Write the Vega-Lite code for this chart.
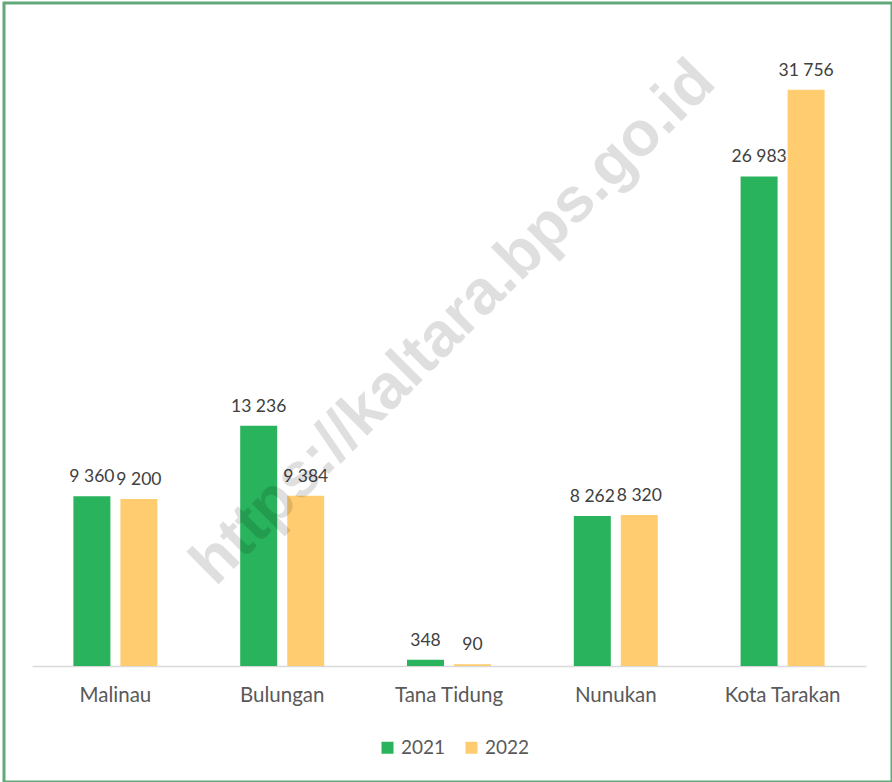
{
  "$schema": "https://vega.github.io/schema/vega-lite/v6.json",
  "width": 888,
  "height": 779,
  "autosize": "none",
  "padding": {"left": 4, "top": 3, "right": 0, "bottom": 0},
  "background": "white",
  "config": {
    "view": {"stroke": "#63a87b", "strokeWidth": 3},
    "locale": {"number": {"decimal": ",", "thousands": " ", "grouping": [3], "currency": ["", ""]}}
  },
  "data": {
    "values": [
      {"region": "Malinau", "year": "2021", "value": 9360},
      {"region": "Malinau", "year": "2022", "value": 9200},
      {"region": "Bulungan", "year": "2021", "value": 13236},
      {"region": "Bulungan", "year": "2022", "value": 9384},
      {"region": "Tana Tidung", "year": "2021", "value": 348},
      {"region": "Tana Tidung", "year": "2022", "value": 90},
      {"region": "Nunukan", "year": "2021", "value": 8262},
      {"region": "Nunukan", "year": "2022", "value": 8320},
      {"region": "Kota Tarakan", "year": "2021", "value": 26983},
      {"region": "Kota Tarakan", "year": "2022", "value": 31756}
    ]
  },
  "layer": [
    {
      "mark": {"type": "bar"},
      "encoding": {
        "x": {
          "field": "region", "type": "nominal",
          "sort": ["Malinau", "Bulungan", "Tana Tidung", "Nunukan", "Kota Tarakan"],
          "scale": {"range": [28, 862], "paddingInner": 0.4964, "paddingOuter": 0.2482},
          "axis": {
            "title": null, "labelAngle": 0, "ticks": false, "grid": false,
            "domain": true, "domainColor": "#d9d9d9", "domainWidth": 1.5,
            "labelFont": "Lato", "labelFontSize": 20.5, "labelColor": "#595959",
            "labelPadding": 19, "offset": -116
          }
        },
        "xOffset": {"field": "year", "type": "nominal", "scale": {"paddingInner": 0.213, "paddingOuter": 0}},
        "y": {
          "field": "value", "type": "quantitative",
          "scale": {"domain": [0, 35000], "range": [663, 28]},
          "axis": null
        },
        "color": {
          "field": "year", "type": "nominal",
          "scale": {"domain": ["2021", "2022"], "range": ["#28b35c", "#ffcd70"]},
          "legend": {
            "title": null, "orient": "none", "legendX": 374, "legendY": 735,
            "direction": "horizontal", "symbolType": "square", "symbolSize": 144,
            "symbolStrokeWidth": 0, "labelFont": "Lato", "labelFontSize": 19,
            "labelColor": "#595959", "columnPadding": 16, "labelOffset": 4
          }
        }
      }
    },
    {
      "mark": {"type": "text", "dy": -14, "baseline": "alphabetic", "fontSize": 17.5, "font": "Lato", "color": "#404040"},
      "encoding": {
        "x": {"field": "region", "type": "nominal", "sort": ["Malinau", "Bulungan", "Tana Tidung", "Nunukan", "Kota Tarakan"]},
        "xOffset": {"field": "year", "type": "nominal"},
        "y": {"field": "value", "type": "quantitative"},
        "text": {"field": "value", "type": "quantitative", "format": ",d"}
      }
    },
    {
      "data": {"values": [{"t": "https://kaltara.bps.go.id"}]},
      "mark": {"type": "text", "font": "Liberation Sans", "fontWeight": "bold", "fontSize": 63, "angle": -45, "align": "center", "baseline": "middle", "color": "#000000", "opacity": 0.12, "dx": 6},
      "encoding": {
        "x": {"datum": "Tana Tidung"},
        "y": {"datum": 18700},
        "text": {"field": "t"}
      }
    }
  ]
}
